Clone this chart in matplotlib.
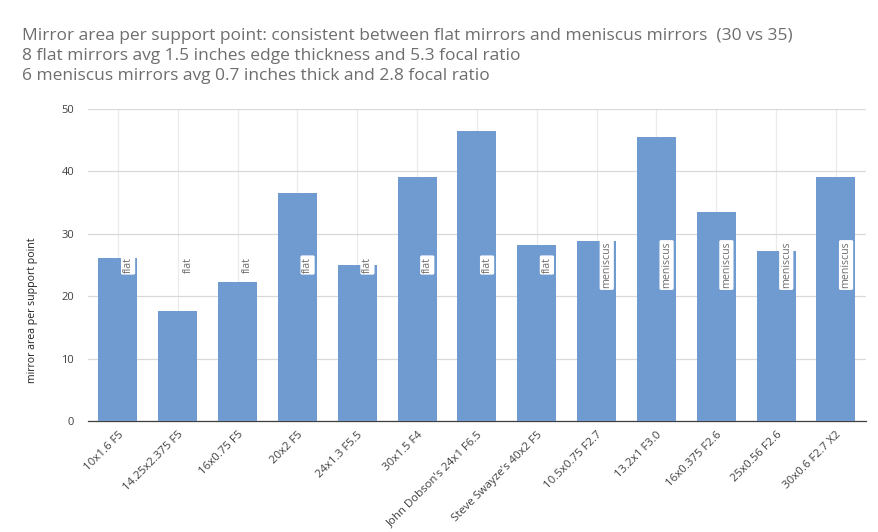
"""
Mirror area per support point, flat vs meniscus mirrors.
Output: out.png
"""

import matplotlib.pyplot as plt

# categories and values
MIRRORS = [
    "10x1.6 F5", "14.25x2.375 F5", "16x0.75 F5", "20x2 F5", "24x1.3 F5.5",
    "30x1.5 F4", "John Dobson's 24x1 F6.5", "Steve Swayze's 40x2 F5",
    "10.5x0.75 F2.7", "13.2x1 F3.0", "16x0.375 F2.6", "25x0.56 F2.6",
    "30x0.6 F2.7 X2",
]
AREA_PER_POINT = [26.1, 17.6, 22.3, 36.5, 25.0, 39.1, 46.5, 28.2,
                  28.8, 45.5, 33.5, 27.2, 39.1]
MIRROR_TYPE = ["flat"] * 8 + ["meniscus"] * 5
LABEL_LEVEL = [25] * 13

TITLE_LINES = [
    "Mirror area per support point: consistent between flat mirrors and meniscus mirrors  (30 vs 35)",
    "8 flat mirrors avg 1.5 inches edge thickness and 5.3 focal ratio",
    "6 meniscus mirrors avg 0.7 inches thick and 2.8 focal ratio",
]

BAR_COLOR = "#709BD0"
TEXT_GRAY = "#6E6E6E"

plt.rcParams['font.family'] = ['Open Sans', 'DejaVu Sans']

fig = plt.figure(figsize=(8.79, 5.32), dpi=100)
ax = fig.add_axes([0.1001, 0.2086, 0.8849, 0.5865])

x = list(range(len(MIRRORS)))
ax.bar(x, AREA_PER_POINT, width=0.65, color=BAR_COLOR, zorder=3)

# category labels sitting on each bar
for xi, level, kind in zip(x, LABEL_LEVEL, MIRROR_TYPE):
    ax.text(xi + 0.17, level, kind, rotation=90, ha='center', va='center',
            fontsize=7.7, color=TEXT_GRAY, zorder=4,
            bbox=dict(boxstyle='round,pad=0.15', fc='white', ec='none'))

ax.set_xlim(-0.5, len(MIRRORS) - 0.5)
ax.set_ylim(0, 50)
ax.set_yticks(range(0, 51, 10))
ax.set_xticks(x)
ax.set_xticklabels(MIRRORS, rotation=45, ha='right', rotation_mode='anchor',
                   fontsize=8.2, color='#404040')
ax.tick_params(axis='y', labelsize=8, colors='#404040', length=0, pad=10)
ax.tick_params(axis='x', length=0, pad=6)

# grid: horizontal lines plus faint vertical lines through the categories
ax.grid(axis='y', color='#D9D9D9', linewidth=0.9, zorder=0)
ax.grid(axis='x', color='#EBEBEB', linewidth=0.9, zorder=0)
for side in ['top', 'right', 'left']:
    ax.spines[side].set_visible(False)
ax.spines['bottom'].set_color('#404040')
ax.spines['bottom'].set_linewidth(0.9)

ax.set_ylabel('mirror area per support point', fontsize=7.6, color='#202020')
ax.yaxis.set_label_coords(-0.064, 0.356)

for i, line in enumerate(TITLE_LINES):
    fig.text(0.025, 1 - (28 + 20 * i) / 532, line, fontsize=12.5,
             color=TEXT_GRAY, ha='left', va='top')

fig.savefig('out.png', dpi=100)
